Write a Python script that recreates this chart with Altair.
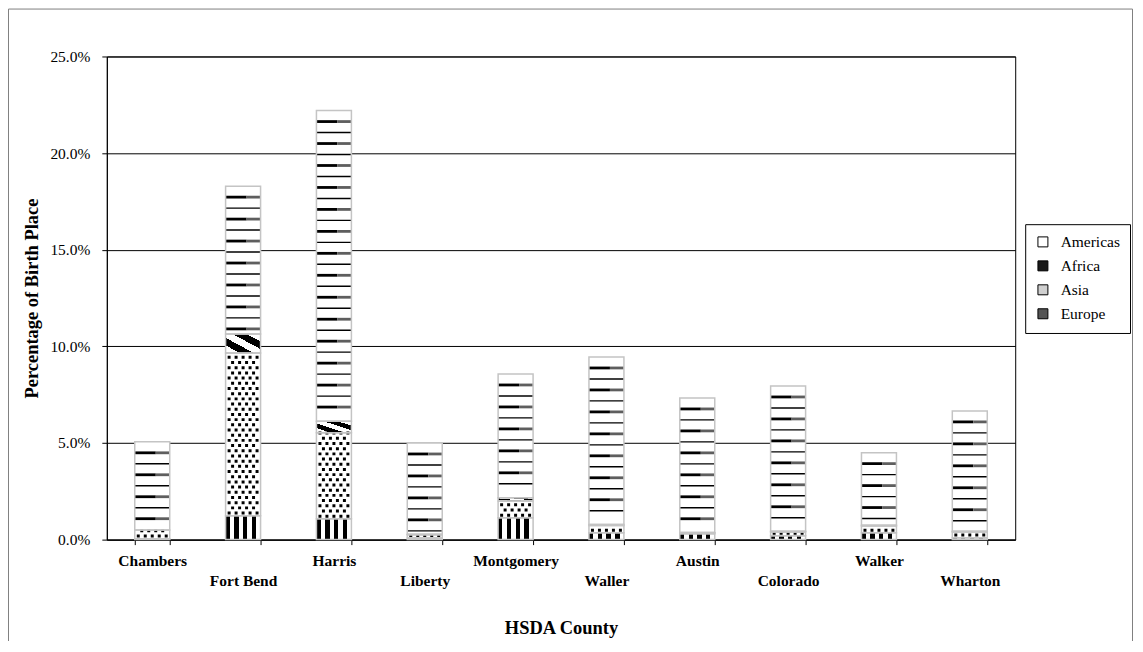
import altair as alt
import pandas as pd

# ---------------- data (percent of population) ----------------
counties = ["Chambers", "Fort Bend", "Harris", "Liberty", "Montgomery",
            "Waller", "Austin", "Colorado", "Walker", "Wharton"]
regions = ["Americas", "Africa", "Asia", "Europe"]
europe = [0.05, 1.24, 1.08, 0.08, 1.13, 0.35, 0.30, 0.20, 0.35, 0.10]
asia = [0.45, 8.42, 4.45, 0.17, 0.87, 0.38, 0.05, 0.20, 0.35, 0.30]
africa = [0.00, 0.98, 0.60, 0.03, 0.17, 0.05, 0.02, 0.03, 0.05, 0.03]
americas = [4.56, 7.65, 16.07, 4.72, 6.40, 8.67, 6.96, 7.52, 3.75, 6.23]
y_ticks = [0, 5, 10, 15, 20, 25]

# ---------------- layout / style ----------------
W, H = 910, 484
Y_MAX = 0.25
PX = H / Y_MAX               # pixels per unit on the y scale
BAR_W = 35
FONT = "Liberation Serif"

stack_order = [("Europe", europe), ("Asia", asia), ("Africa", africa), ("Americas", americas)]
rows = []
for i, c in enumerate(counties):
    base = 0.0
    for reg, arr in stack_order:
        v = arr[i] / 100.0
        rows.append(dict(county=c, region=reg, y0=base, y1=base + v, value=v))
        base += v
seg = pd.DataFrame(rows)

# pattern helpers (stripes for Americas, dot rows for Asia), derived from the segments
stripe_step = 11.0 / PX
dot_step = 5.2 / PX
stripes, dots = [], []
for r in rows:
    if r["region"] == "Americas":
        k = 1
        while r["y1"] - k * stripe_step > r["y0"] + 0.3 * stripe_step:
            stripes.append(dict(county=r["county"], y0=r["y1"] - k * stripe_step,
                                kind="thick" if k % 2 == 1 else "thin"))
            k += 1
    if r["region"] == "Asia":
        k = 0
        while r["y0"] + (k + 0.5) * dot_step < r["y1"]:
            dots.append(dict(county=r["county"], y0=r["y0"] + (k + 0.5) * dot_step, row=k % 2))
            k += 1
stripes = pd.DataFrame(stripes)
dots = pd.DataFrame(dots)


def hard_stops(colors):
    n = len(colors)
    out = []
    for i, col in enumerate(colors):
        out.append(alt.GradientStop(offset=i / n, color=col))
        out.append(alt.GradientStop(offset=(i + 1) / n, color=col))
    return out


def dot_path(centers, h=0.085):
    return " ".join(f"M{cx - h:.3f},{-h:.3f}h{2 * h:.3f}v{2 * h:.3f}h{-2 * h:.3f}z" for cx in centers)


pathA = dot_path([-0.8, -0.4, 0.0, 0.4, 0.8])
pathB = dot_path([-0.6, -0.2, 0.2, 0.6])

n_last = len(counties) - 1
X = alt.X(
    "county:N", sort=counties,
    scale=alt.Scale(paddingInner=0.615, paddingOuter=0.3075),
    axis=alt.Axis(
        title="HSDA County", titleFontSize=18.5, titleFontWeight="bold", titlePadding=30,
        labelFontSize=15.5, labelFontWeight="bold", labelAngle=0, labelPadding=9,
        labelLineHeight=20, labelOverlap=False,
        labelExpr=f"round(datum.index * {n_last}) % 2 == 1 ? ['', datum.label] : datum.label",
        tickBand="extent", tickSize=5, grid=False,
    ),
)
Y = alt.Y(
    "y0:Q",
    scale=alt.Scale(domain=[0, Y_MAX], nice=False),
    axis=alt.Axis(
        title="Percentage of Birth Place", titleFontSize=18.5, titleFontWeight="bold",
        titlePadding=8, values=[v / 100 for v in y_ticks], format=".1%",
        labelFontSize=15.5, tickSize=5, labelPadding=12, grid=True,
        gridColor="black", gridWidth=1,
    ),
)

base = alt.Chart(seg).mark_bar(strokeWidth=0).encode(
    x=X, y=Y, y2="y1",
    color=alt.Color(
        "region:N",
        scale=alt.Scale(domain=regions, range=["#ffffff", "#1a1a1a", "#cfcfcf", "#555555"]),
        legend=alt.Legend(
            orient="none", legendX=920, legendY=168, title=None,
            symbolType="square", symbolSize=100, symbolStrokeColor="black",
            symbolStrokeWidth=1, labelFont=FONT, labelFontSize=15.5, labelColor="black",
            labelOffset=10, rowPadding=7, padding=10, strokeColor="black", fillColor="white",
        ),
    ),
)

white = alt.Chart(seg).transform_filter(
    "datum.region == 'Americas' || datum.region == 'Asia'"
).mark_bar(fill="white", strokeWidth=0).encode(x=X, y=Y, y2="y1")

eur = alt.Chart(seg).transform_filter("datum.region == 'Europe'").mark_bar(
    strokeWidth=0,
    fill=alt.Gradient(gradient="linear", x1=0, y1=0, x2=1, y2=0,
                      stops=hard_stops(["black", "white"] * 4)),
).encode(x=X, y=Y, y2="y1")

afr = alt.Chart(seg).transform_filter("datum.region == 'Africa'").mark_bar(
    strokeWidth=0,
    fill=alt.Gradient(gradient="linear", x1=0, y1=1, x2=1, y2=0,
                      stops=hard_stops(["white", "black", "white", "black", "white"])),
).encode(x=X, y=Y, y2="y1")

thin = alt.Chart(stripes).transform_filter("datum.kind == 'thin'").mark_tick(
    color="black", size=BAR_W, thickness=1.4, opacity=1
).encode(x=X, y=Y)
thickL = alt.Chart(stripes).transform_filter("datum.kind == 'thick'").mark_tick(
    color="black", size=BAR_W * 0.6, thickness=2.8, opacity=1, xOffset=-BAR_W * 0.2
).encode(x=X, y=Y)
thickR = alt.Chart(stripes).transform_filter("datum.kind == 'thick'").mark_tick(
    color="#5e5e5e", size=BAR_W * 0.4, thickness=2.8, opacity=1, xOffset=BAR_W * 0.3
).encode(x=X, y=Y)

dotsA = alt.Chart(dots).transform_filter("datum.row == 0").mark_point(
    shape=pathA, size=BAR_W * BAR_W, filled=True, color="black", opacity=1, strokeWidth=0
).encode(x=X, y=Y)
dotsB = alt.Chart(dots).transform_filter("datum.row == 1").mark_point(
    shape=pathB, size=BAR_W * BAR_W, filled=True, color="black", opacity=1, strokeWidth=0
).encode(x=X, y=Y)

outline = alt.Chart(seg).transform_filter("datum.value > 0").mark_bar(
    fill="transparent", stroke="#c4c4c4", strokeWidth=1.5
).encode(x=X, y=Y, y2="y1")

frame = alt.Chart(pd.DataFrame({"f": [0]})).mark_rect(
    fill="transparent", stroke="#808080", strokeWidth=1
).encode(x=alt.value(-98.5), x2=alt.value(1027.5), y=alt.value(-47.5), y2=alt.value(700))

chart = alt.layer(
    base, white, eur, afr, thin, thickL, thickR, dotsA, dotsB, outline, frame
).properties(
    width=W, height=H,
    autosize=alt.AutoSizeParams(type="none"),
    padding={"left": 99, "top": 48, "right": 120, "bottom": 101},
    background="white",
).configure_view(
    stroke="black", strokeWidth=1
).configure_axis(
    labelFont=FONT, titleFont=FONT, labelColor="black", titleColor="black",
    domainColor="black", tickColor="black", domainWidth=1, tickWidth=1,
)

chart.save("out.html", embed_options={"renderer": "svg", "actions": False})
